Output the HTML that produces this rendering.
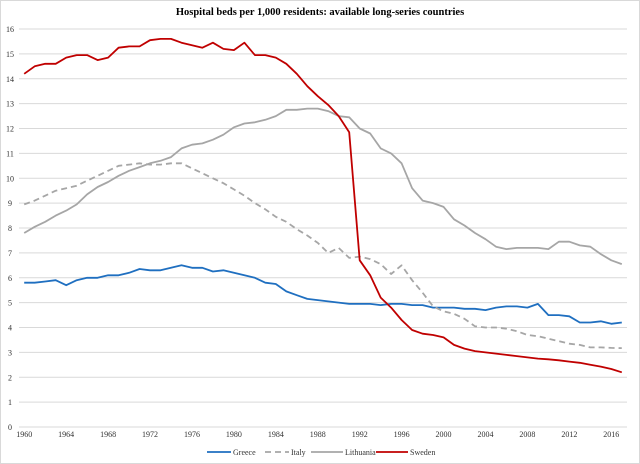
<!DOCTYPE html>
<html><head><meta charset="utf-8"><style>
html,body{margin:0;padding:0;background:#fff;}
svg{display:block;font-family:"Liberation Serif",serif;}
</style></head><body>
<svg id="chart" width="640" height="464">
<rect x="0.5" y="0.5" width="639" height="463" fill="#fff" stroke="#d9d9d9"/>
<text x="320" y="15" text-anchor="middle" font-size="10.5" font-weight="bold">Hospital beds per 1,000 residents: available long-series countries</text>
<g id="grid"></g><g id="yt"></g><g id="xt"></g><g id="series"></g>
<g id="legend"></g>
</svg>
<script>
const years=[];for(let y=1960;y<=2017;y++)years.push(y);
const yTicks=[0,1,2,3,4,5,6,7,8,9,10,11,12,13,14,15,16];
const greece=[5.8,5.8,5.85,5.9,5.7,5.9,6.0,6.0,6.1,6.1,6.2,6.35,6.3,6.3,6.4,6.5,6.4,6.4,6.25,6.3,6.2,6.1,6.0,5.8,5.75,5.45,5.3,5.15,5.1,5.05,5.0,4.95,4.95,4.95,4.9,4.95,4.95,4.9,4.9,4.8,4.8,4.8,4.75,4.75,4.7,4.8,4.85,4.85,4.8,4.95,4.5,4.5,4.45,4.2,4.2,4.25,4.15,4.2];
const italy=[8.95,9.1,9.3,9.5,9.6,9.7,9.9,10.1,10.3,10.5,10.55,10.6,10.55,10.55,10.6,10.6,10.4,10.2,10.0,9.8,9.55,9.3,9.0,8.75,8.45,8.25,7.95,7.7,7.4,7.0,7.2,6.8,6.85,6.75,6.55,6.15,6.5,5.9,5.4,4.85,4.65,4.55,4.35,4.05,4.0,4.0,3.95,3.85,3.7,3.65,3.55,3.45,3.35,3.3,3.2,3.2,3.18,3.17];
const lithuania=[7.8,8.05,8.25,8.5,8.7,8.95,9.35,9.65,9.85,10.1,10.3,10.45,10.6,10.7,10.85,11.2,11.35,11.4,11.55,11.75,12.05,12.2,12.25,12.35,12.5,12.75,12.75,12.8,12.8,12.7,12.5,12.45,12.0,11.8,11.2,11.0,10.6,9.6,9.1,9.0,8.85,8.35,8.1,7.8,7.55,7.25,7.15,7.2,7.2,7.2,7.15,7.45,7.45,7.3,7.25,6.95,6.7,6.55];
const sweden=[14.2,14.5,14.6,14.6,14.85,14.95,14.95,14.75,14.85,15.25,15.3,15.3,15.55,15.6,15.6,15.45,15.35,15.25,15.45,15.2,15.15,15.45,14.95,14.95,14.85,14.6,14.2,13.7,13.3,12.95,12.5,11.85,6.7,6.1,5.2,4.8,4.3,3.9,3.75,3.7,3.6,3.3,3.15,3.05,3.0,2.95,2.9,2.85,2.8,2.75,2.72,2.68,2.63,2.58,2.5,2.43,2.33,2.2];
const L=19,R=627,T=29,B=427;
const bw=(R-L)/years.length;
const X=i=>L+bw*(i+0.5);
const Y=v=>B-(v/16)*(B-T);
const NS="http://www.w3.org/2000/svg";
function mk(tag,parent,attrs){const e=document.createElementNS(NS,tag);for(const k in attrs)e.setAttribute(k,attrs[k]);parent.appendChild(e);return e;}
const grid=document.getElementById('grid'),yt=document.getElementById('yt'),xt=document.getElementById('xt'),ser=document.getElementById('series'),leg=document.getElementById('legend');
yTicks.forEach(v=>{
 const l=mk('line',grid,{x1:L,x2:R,y1:Y(v),y2:Y(v),stroke:'#d9d9d9','stroke-width':1});
 
 
 const t=mk('text',yt,{x:10,y:Y(v)+3,'font-size':8,'text-anchor':'middle',fill:'#333'});
 t.textContent=v;
 
 
});
years.forEach((y,i)=>{ if((y-1960)%4===0){
 const t=mk('text',xt,{x:X(i),y:437,'font-size':8,'text-anchor':'middle',fill:'#333'});
 t.textContent=y;
 
 
}});
const S=[{n:'Greece',d:greece,c:'#1f6fc0',dash:''},{n:'Italy',d:italy,c:'#a6a6a6',dash:'6,4'},{n:'Lithuania',d:lithuania,c:'#a6a6a6',dash:''},{n:'Sweden',d:sweden,c:'#c00000',dash:''}];
S.forEach(s=>{
 const p=mk('polyline',ser,{points:s.d.map((v,i)=>X(i).toFixed(1)+','+Y(v).toFixed(1)).join(' '),fill:'none',stroke:s.c,'stroke-width':1.8,'stroke-dasharray':s.dash,'stroke-linejoin':'round'});
 
 
});
const lx=[207,265,311,376],lw=[24,24,32,32];
S.forEach((s,i)=>{
 const l=mk('line',leg,{x1:lx[i],x2:lx[i]+lw[i],y1:452,y2:452,stroke:s.c,'stroke-width':1.8,'stroke-dasharray':s.dash});
 
 
 const t=mk('text',leg,{x:lx[i]+lw[i]+2,y:455,'font-size':8,fill:'#333'});
 t.textContent=s.n;
 
 
});
</script>
</body></html>
